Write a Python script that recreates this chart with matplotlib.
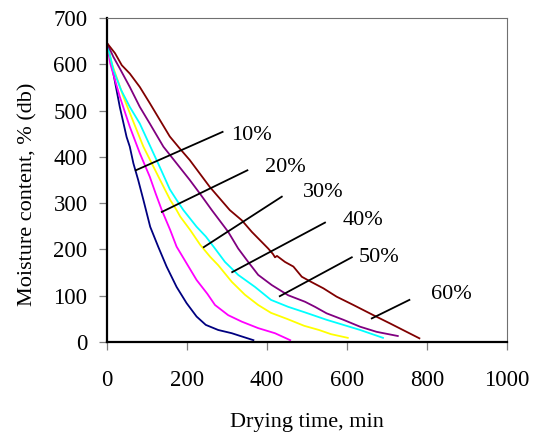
import matplotlib
matplotlib.use('Agg')
import matplotlib.pyplot as plt

# Drying curves (time in min, moisture in % db)
t_10 = [0, 16, 32, 49, 57, 66, 78, 91, 108, 128, 149, 174, 199, 224, 247, 278, 312, 337, 366]
m_10 = [646, 580, 508, 443, 422, 386, 350, 307, 249, 206, 163, 119, 84, 55, 37, 26, 19, 12, 4]

t_20 = [0, 8, 32, 57, 82, 107, 122, 137, 158, 174, 199, 224, 251, 270, 303, 337, 378, 420, 458]
m_20 = [646, 602, 530, 465, 408, 357, 320, 285, 242, 206, 170, 134, 104, 80, 58, 44, 30, 19, 4]

t_30 = [0, 12, 41, 57, 91, 116, 141, 158, 174, 183, 208, 233, 258, 278, 312, 345, 378, 410, 450,
        493, 530, 560, 602]
m_30 = [646, 602, 530, 495, 422, 379, 336, 307, 285, 271, 242, 210, 184, 166, 130, 102, 80, 63, 50,
        35, 26, 17, 9]

t_40 = [0, 16, 35, 57, 82, 107, 132, 157, 174, 191, 224, 247, 270, 295, 328, 370, 410, 453, 495,
        549, 591, 633, 690]
m_40 = [646, 588, 545, 508, 472, 425, 378, 330, 307, 285, 249, 228, 202, 173, 145, 119, 91, 76, 64,
        48, 37, 26, 9]

t_50 = [0, 16, 32, 57, 82, 107, 141, 174, 207, 232, 262, 303, 328, 353, 378, 412, 453, 495, 520,
        549, 591, 633, 674, 727]
m_50 = [646, 616, 591, 551, 508, 472, 422, 386, 350, 321, 285, 238, 202, 173, 145, 123, 101, 87, 76,
        62, 48, 33, 22, 13]

t_60 = [0, 20, 37, 57, 82, 107, 132, 157, 182, 207, 232, 257, 282, 307, 337, 362, 403, 415, 420,
        425, 445, 466, 487, 508, 541, 574, 616, 666, 708, 749, 781]
m_60 = [646, 624, 598, 580, 551, 516, 480, 444, 418, 393, 364, 335, 310, 285, 263, 238, 202, 190, 183,
        186, 173, 163, 141, 131, 116, 98, 80, 58, 40, 22, 8]

labels = ['10%', '20%', '30%', '40%', '50%', '60%']
colors = ['#000080', '#FF00FF', '#FFFF00', '#00FFFF', '#800080', '#800000']
series = [(t_10, m_10), (t_20, m_20), (t_30, m_30), (t_40, m_40), (t_50, m_50), (t_60, m_60)]

# leader lines: (x0, y0, x1, y1) and label anchor (x, baseline y)
leaders = [(72, 371, 289, 454), (137, 281, 351, 371), (242, 205, 437, 314),
           (313, 151, 545, 258), (432, 99, 612, 183), (662, 51, 756, 91)]
label_pos = [(310, 436), (395, 367), (490, 313), (590, 253), (630, 173), (810, 93)]

plt.rcParams['font.family'] = ['Liberation Serif', 'DejaVu Serif']
fs = 16

fig = plt.figure(figsize=(5.42, 4.32), dpi=100)
ax = fig.add_axes([0.1974, 0.2083, 0.738, 0.750])

for (t, m), c in zip(series, colors):
    ax.plot(t, m, color=c, lw=1.3)

for (x0, y0, x1, y1) in leaders:
    ax.plot([x0, x1], [y0, y1], color='black', lw=1.3)
for lab, (x, y) in zip(labels, label_pos):
    ax.text(x, y, lab, fontsize=fs, ha='left', va='baseline')

ax.set_xlim(0, 1000)
ax.set_ylim(0, 700)
ax.set_xticks(range(0, 1001, 200))
ax.set_yticks(range(0, 701, 100))

ax.spines['left'].set_linewidth(1.6)
ax.spines['bottom'].set_linewidth(1.6)
ax.spines['left'].set_color('black')
ax.spines['bottom'].set_color('black')
for s in ['top', 'right']:
    ax.spines[s].set_linewidth(0.8)
    ax.spines[s].set_color('#707070')

ax.tick_params(axis='x', direction='out', length=6, width=0.9, color='#808080',
               labelsize=16.5, pad=14)
ax.tick_params(axis='y', direction='out', length=6, width=0.9, color='#808080',
               labelsize=16.5, pad=8)

ax.set_xlabel('Drying time, min', fontsize=fs, labelpad=16)
ax.set_ylabel('Moisture content, % (db)', fontsize=fs)
ax.yaxis.set_label_coords(-0.175, 0.457)

fig.savefig('out.png', dpi=100)
